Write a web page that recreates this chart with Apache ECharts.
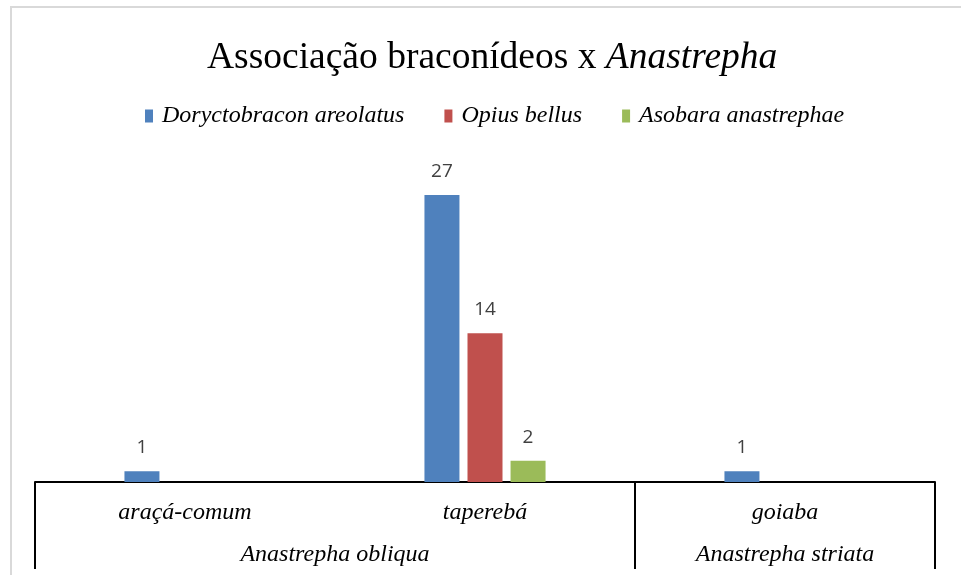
<!DOCTYPE html>
<html>
<head>
<meta charset="utf-8">
<script src="https://cdn.jsdelivr.net/npm/echarts@6/dist/echarts.min.js"></script>
<style>
  html,body{margin:0;padding:0;background:#fff;}
  #chart{width:961px;height:575px;}
</style>
</head>
<body>
<div id="chart"></div>
<script>
var hosts = ['araçá-comum', 'taperebá', 'goiaba'];
var groups = ['Anastrepha obliqua', 'Anastrepha striata'];
var groupCenters = [1, 2.5];
var groupEdges = [0, 2, 3];
var seriesNames = ['Doryctobracon areolatus', 'Opius bellus', 'Asobara anastrephae'];
var doryctobracon = [1, 27, 1];
var opius = [null, 14, null];
var asobara = [null, 2, null];
var colors = ['#4F81BD', '#C0504D', '#9BBB59'];

var serif = 'Liberation Serif';
var chart = echarts.init(document.getElementById('chart'));

function barSeries(name, data) {
    return {
        name: name,
        type: 'bar',
        data: data,
        barWidth: 35,
        barGap: '23%',
        label: {
            show: true,
            position: 'top',
            distance: 14,
            color: '#404040',
            fontSize: 19,
            fontFamily: 'Open Sans'
        }
    };
}

var option = {
    animation: false,
    color: colors,
    title: {
        text: '{n|Associação braconídeos x }{i|Anastrepha}',
        left: 202,
        top: 34,
        textStyle: {
            rich: {
                n: {fontFamily: serif, fontSize: 37.5, fontWeight: 'normal', color: '#000'},
                i: {fontFamily: serif, fontSize: 37.5, fontWeight: 'normal', fontStyle: 'italic', color: '#000'}
            }
        }
    },
    legend: {
        top: 99,
        left: 140,
        icon: 'rect',
        itemWidth: 8,
        itemHeight: 13,
        itemGap: 40,
        data: seriesNames,
        textStyle: {fontFamily: serif, fontStyle: 'italic', fontSize: 24, color: '#000', padding: [0, 0, 0, 4]}
    },
    graphic: [{
        type: 'rect',
        shape: {x: 11, y: 7, width: 1000, height: 620},
        style: {fill: 'none', stroke: '#d9d9d9', lineWidth: 2},
        silent: true
    }],
    grid: {left: 35, right: 26, top: 163, bottom: 93},
    xAxis: [{
        type: 'category',
        data: hosts,
        axisLine: {lineStyle: {color: '#000', width: 2}},
        axisTick: {show: false},
        axisLabel: {
            margin: 19,
            fontFamily: 'serif',
            fontStyle: 'italic',
            fontSize: 24,
            color: '#000'
        }
    }, {
        type: 'value',
        min: 0,
        max: 3,
        position: 'bottom',
        axisLine: {show: false},
        splitLine: {show: false},
        axisTick: {
            show: true,
            customValues: groupEdges,
            length: 87,
            lineStyle: {color: '#000', width: 2}
        },
        axisLabel: {
            customValues: groupCenters,
            margin: 61,
            fontFamily: 'serif',
            fontStyle: 'italic',
            fontSize: 24,
            color: '#000',
            formatter: function (v) {
                return groups[groupCenters.indexOf(v)] || '';
            }
        }
    }],
    yAxis: {
        type: 'value',
        min: 0,
        max: 30,
        show: false
    },
    series: [
        barSeries(seriesNames[0], doryctobracon),
        barSeries(seriesNames[1], opius),
        barSeries(seriesNames[2], asobara)
    ]
};
chart.setOption(option);
</script>
</body>
</html>
